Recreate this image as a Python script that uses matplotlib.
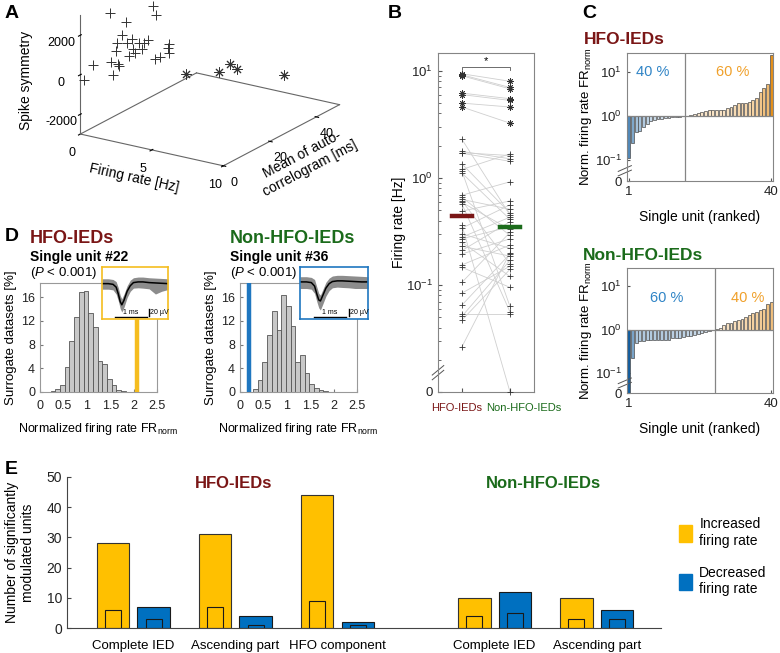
import numpy as np
import matplotlib
matplotlib.use('Agg')
import matplotlib.pyplot as plt
from matplotlib.patches import Patch

# ---------------- data ----------------
# A: 3D scatter (firing rate [Hz], mean of autocorrelogram [ms], spike symmetry)
a_fr_plus = [0.2, 0.38, 0.7, 0.76, 0.82, 0.72, 0.86, 0.88, 0.94, 1.02, 1.04, 1.08, 1.14, 1.16,
             1.2, 1.28, 1.34, 1.38, 1.44, 1.54, 1.6, 1.58, 1.68, 1.84, 1.86, 1.86, 0.84]
a_ac_plus = [0.5, 3.2, 8.3, 9.3, 10.2, 8.6, 10.9, 11.2, 12.1, 13.4, 13.7, 14.3, 15.3, 15.6,
             16.3, 17.5, 18.5, 19.1, 20.1, 21.6, 22.6, 22.3, 23.9, 26.4, 26.7, 26.7, 10.5]
a_sym_plus = [-270, 380, 2740, -470, 680, 240, 20, -90, 1420, 1990, 930, 240, 1020, 540,
              300, 710, 350, 640, 750, 2400, 1880, -340, -310, 0, 190, -230, 1080]
a_fr_star = [4.6, 6.0, 6.2, 6.4, 9.3]
a_ac_star = [17.0, 22.6, 26.2, 28.0, 30.6]
a_sym_star = [-250, -320, -70, -400, -430]

# B: firing rate per unit, HFO-IEDs vs Non-HFO-IEDs (paired)
b_hfo_star = [9.4, 9.2, 9.0, 6.2, 6.0, 5.0, 4.6]
b_non_star = [8.0, 7.0, 6.8, 5.5, 5.3, 4.6, 3.25]
b_hfo_plus = [2.29, 1.77, 1.72, 1.7, 1.35, 1.2, 1.15, 1.11, 0.69, 0.66, 0.63, 0.61, 0.59, 0.57,
              0.49, 0.36, 0.34, 0.30, 0.28, 0.27, 0.25, 0.23, 0.21, 0.195, 0.154, 0.146, 0.106,
              0.084, 0.065, 0.053, 0.051, 0.047, 0.0265]
b_non_plus = [0.45, 1.51, 1.62, 1.43, 0.47, 1.68, 0.063, 0.41, 0.92, 0.29, 0.51, 0.157, 0.33,
              0.056, 0.61, 0.0, 0.56, 0.22, 0.43, 0.35, 0.12, 0.186, 0.39, 0.27, 0.236, 0.095,
              0.31, 0.15, 0.195, 0.053, 0.17, 0.14, 0.2]
b_median = [0.44, 0.35]
b_groups = ['HFO-IEDs', 'Non-HFO-IEDs']

# C: normalized firing rate, ranked units
c_hfo = [0.11, 0.24, 0.44, 0.45, 0.55, 0.66, 0.76, 0.80, 0.84, 0.87, 0.89, 0.91, 0.93, 0.95,
         0.96, 0.98, 1.02, 1.05, 1.13, 1.17, 1.26, 1.30, 1.35, 1.35, 1.35, 1.38, 1.40, 1.48,
         1.56, 1.73, 1.96, 2.0, 2.0, 2.1, 2.3, 2.6, 3.4, 4.2, 5.2, 24.5]
c_non = [0.0, 0.22, 0.50, 0.53, 0.55, 0.56, 0.56, 0.57, 0.57, 0.57, 0.57, 0.58, 0.63, 0.63,
         0.64, 0.66, 0.70, 0.72, 0.75, 0.78, 0.82, 0.86, 0.90, 0.95, 1.01, 1.08, 1.30, 1.40,
         1.45, 1.55, 1.65, 1.75, 1.95, 2.2, 2.35, 2.5, 2.8, 3.0, 3.8, 4.3]
c_pct_hfo = ['40 %', '60 %']
c_pct_non = ['60 %', '40 %']

# D: surrogate distributions (bin centers, %)
d_hfo_centers = [0.28, 0.38, 0.48, 0.58, 0.68, 0.78, 0.88, 0.98, 1.08, 1.18, 1.28, 1.38, 1.48,
                 1.58, 1.68, 1.78]
d_hfo_heights = [0.1, 0.56, 1.2, 4.2, 8.6, 12.7, 16.8, 17.0, 13.4, 11.0, 5.3, 4.7, 2.25, 1.1,
                 0.35, 0.1]
d_non_centers = [0.33, 0.43, 0.53, 0.63, 0.73, 0.83, 0.93, 1.03, 1.13, 1.23, 1.33, 1.43, 1.53,
                 1.63, 1.73, 1.83, 1.93]
d_non_heights = [0.56, 2.1, 5.1, 9.6, 13.7, 10.4, 16.4, 14.5, 11.2, 5.1, 6.2, 3.2, 1.4, 0.7,
                 0.35, 0.15, 0.05]
d_observed = [2.08, 0.2]
# spike waveforms in the insets (ms, uV)
w_t = [0, 0.2, 0.35, 0.45, 0.52, 0.58, 0.63, 0.7, 0.8, 0.9, 1.0, 1.15, 1.3, 1.5, 1.7, 1.9, 2.1]
w_hfo_mean = [0, 0, -2, -10, -30, -52, -61, -48, -22, -6, 3, 5, 5, 3, 2, 1, 0]
w_hfo_up = [14, 14, 12, 6, -12, -34, -44, -30, -6, 10, 17, 19, 19, 17, 16, 15, 14]
w_hfo_lo = [-16, -16, -18, -30, -50, -72, -82, -68, -40, -22, -13, -12, -13, -15, -30, -22, -17]
w_non_mean = [5, 5, 3, -7, -30, -47, -50, -35, -13, 0, 6, 8, 8, 7, 6, 5, 5]
w_non_up = [20, 20, 18, 12, -10, -28, -33, -18, 4, 16, 22, 24, 24, 23, 22, 21, 20]
w_non_lo = [-14, -14, -16, -28, -52, -70, -76, -60, -36, -20, -12, -10, -11, -12, -14, -14, -14]

# E: significantly modulated units
e_labels = ['Complete IED', 'Ascending part', 'HFO component', 'Complete IED', 'Ascending part']
e_inc = [28, 31, 44, 10, 10]
e_dec = [7, 4, 2, 12, 6]
e_inc_inner = [6, 7, 9, 4, 3]
e_dec_inner = [3, 1, 1, 5, 3]

# ---------------- style ----------------
plt.rcParams['font.family'] = ['Liberation Sans', 'DejaVu Sans']
plt.rcParams['axes.unicode_minus'] = False
plt.rcParams['mathtext.fontset'] = 'custom'
plt.rcParams['mathtext.rm'] = 'Liberation Sans'
plt.rcParams['mathtext.it'] = 'Liberation Sans:italic'
plt.rcParams['mathtext.bf'] = 'Liberation Sans:bold'

DARKRED = '#7a1616'
GREEN = '#1b6b1b'
YELLOW = '#ffc000'
BLUE = '#0070c0'
SPINE = '#858585'
W, H = 780, 653


def rect(x0, y0, x1, y1):
    return [x0 / W, 1 - y1 / H, (x1 - x0) / W, (y1 - y0) / H]


fig = plt.figure(figsize=(7.8, 6.53), dpi=100)

# ---------------- A ----------------
axA = fig.add_axes(rect(60, -82, 352, 210), projection='3d')
axA.set_proj_type('ortho')
axA.view_init(elev=20, azim=-57)
axA.set_box_aspect((1, 1.25, 0.74), zoom=1.0)
axA.set_xlim(0, 10)
axA.set_ylim(0, 50)
axA.set_zlim(-3000, 3000)
for ax_ in (axA.xaxis, axA.yaxis, axA.zaxis):
    ax_.pane.set_visible(False)
    ax_.line.set_color('#666666')
    ax_.line.set_linewidth(0.8)
axA.zaxis.set_ticks_position('lower')
axA.zaxis.set_label_position('lower')
axA.grid(False)
axA.set_xticks([0, 5, 10])
axA.set_yticks([0, 20, 40])
axA.set_zticks([-2000, 0, 2000])
axA.tick_params(labelsize=9, pad=0)
axA.plot([0, 0], [0, 50], [-3000, -3000], color='#666666', lw=0.8)
axA.plot([0, 10], [50, 50], [-3000, -3000], color='#666666', lw=0.8)
axA.scatter(a_fr_plus, a_ac_plus, a_sym_plus, marker='+', c='#333333', s=55,
            linewidths=0.7, depthshade=False)
axA.scatter(a_fr_star, a_ac_star, a_sym_star, marker=(8, 2, 0), c='#333333', s=45,
            linewidths=0.7, depthshade=False)
axA.set_xlabel('Firing rate [Hz]', fontsize=10, labelpad=-4)
axA.set_ylabel('Mean of auto-\ncorrelogram [ms]', fontsize=10, labelpad=-2)
axA.set_zlabel('Spike symmetry', fontsize=10, labelpad=2)

# ---------------- B ----------------
axB = fig.add_axes(rect(438, 53, 534, 392))
axB.set_yscale('log')
ymin_b = 0.01
axB.set_ylim(ymin_b, 14.7)
axB.set_xlim(0.5, 2.5)
hfo_all = np.array(b_hfo_star + b_hfo_plus)
non_all = np.array(b_non_star + b_non_plus)
hfo_all = np.where(hfo_all > 0, hfo_all, ymin_b)
non_all = np.where(non_all > 0, non_all, ymin_b)
for a, b in zip(hfo_all, non_all):
    axB.plot([1, 2], [a, b], color='#cfcfcf', lw=0.6, zorder=1)
ns = len(b_hfo_star)
axB.plot(np.ones(ns), hfo_all[:ns], ls='none', marker=(8, 2, 0), ms=4.5, mew=0.6,
         color='#333333', zorder=3, clip_on=False)
axB.plot(np.full(ns, 2), non_all[:ns], ls='none', marker=(8, 2, 0), ms=4.5, mew=0.6,
         color='#333333', zorder=3, clip_on=False)
axB.plot(np.ones(len(hfo_all) - ns), hfo_all[ns:], ls='none', marker='+', ms=5, mew=0.6,
         color='#333333', zorder=3, clip_on=False)
axB.plot(np.full(len(non_all) - ns, 2), non_all[ns:], ls='none', marker='+', ms=5, mew=0.6,
         color='#333333', zorder=3, clip_on=False)
axB.plot([0.79, 1.21], [b_median[0]] * 2, color=DARKRED, lw=3.2, zorder=4)
axB.plot([1.79, 2.21], [b_median[1]] * 2, color=GREEN, lw=3.2, zorder=4)
axB.plot([1, 1, 2, 2], [10.2, 10.8, 10.8, 10.2], color='#555555', lw=0.6)
axB.text(1.5, 11.0, '*', ha='center', va='bottom', fontsize=8)
axB.set_yticks([0.01, 0.1, 1, 10])
axB.set_yticklabels(['0', '$10^{-1}$', '$10^{0}$', '$10^{1}$'], fontsize=9.5)
axB.set_xticks([1, 2])
axB.set_xticklabels(['', ''])
axB.text((482 - 438) / 96, -16 / 339, b_groups[0], color=DARKRED, fontsize=8, ha='right',
         va='center', transform=axB.transAxes)
axB.text((486 - 438) / 96, -16 / 339, b_groups[1], color=GREEN, fontsize=8, ha='left',
         va='center', transform=axB.transAxes)
axB.tick_params(which='both', direction='in', right=False, top=False, colors='#555555',
                labelcolor='#222222')
axB.tick_params(which='major', length=3)
axB.tick_params(which='minor', length=1.8)
for s in axB.spines.values():
    s.set_color(SPINE)
    s.set_linewidth(0.8)
axB.set_ylabel('Firing rate [Hz]', fontsize=10, labelpad=0)
for dy in (0.0, 0.014):
    axB.plot([-0.06, 0.06], [0.036 + dy, 0.064 + dy], transform=axB.transAxes,
             color='#555555', lw=0.7, clip_on=False)


# ---------------- C ----------------
def blend(base, t):
    base = np.array(matplotlib.colors.to_rgb(base))
    return tuple(1 - (1 - base) * t)


def draw_c(box, vals, n_low, pcts, pct_y, title, tcolor, title_xy):
    ax = fig.add_axes(rect(*box))
    ax.set_yscale('log')
    lo, hi = 0.034, 26.5
    ax.set_ylim(lo, hi)
    ax.set_xlim(0.5, len(vals) + 0.5)
    v = np.array(vals, float)
    v = np.where(v > 0, v, lo)
    x = np.arange(1, len(v) + 1)
    dev = np.clip(np.abs(np.log10(v)) / 1.45, 0, 1)
    cols = [blend('#135d9e' if vi < 1 else '#e58c12', 0.15 + 0.85 * d ** 0.9)
            for vi, d in zip(v, dev)]
    ax.bar(x, v - 1, bottom=1, width=0.8, color=cols, edgecolor='#4d4d4d', lw=0.5, zorder=2)
    ax.axhline(1, color=SPINE, lw=0.9, zorder=3)
    ax.axvline(n_low + 0.5, color=SPINE, lw=0.9, zorder=3)
    ax.text((1 + n_low) / 2 - 1, pct_y, pcts[0], color='#2f84c6', ha='center', va='center',
            fontsize=10.5)
    ax.text((n_low + 1 + len(v)) / 2 + 1, pct_y, pcts[1], color='#f0a02a', ha='center',
            va='center', fontsize=10.5)
    ax.set_yticks([lo, 0.1, 1, 10])
    ax.set_yticklabels(['0', '$10^{-1}$', '$10^{0}$', '$10^{1}$'], fontsize=9.5)
    ax.yaxis.set_minor_locator(matplotlib.ticker.NullLocator())
    ax.set_xticks([1, len(v)])
    ax.set_xticklabels(['1', str(len(v))], fontsize=9.5)
    ax.tick_params(direction='in', length=2.5, colors='#555555', labelcolor='#222222',
                   right=False, top=False)
    for s in ax.spines.values():
        s.set_color(SPINE)
        s.set_linewidth(0.8)
    ax.set_ylabel('Norm. firing rate FR$_{\\mathrm{norm}}$', fontsize=9.5, labelpad=1)
    ax.set_xlabel('Single unit (ranked)', fontsize=10, labelpad=9)
    for dy in (0.0, 0.035):
        ax.plot([-0.06, 0.03], [0.04 + dy, 0.085 + dy], transform=ax.transAxes,
                color='#555555', lw=0.7, clip_on=False)
    fig.text(title_xy[0] / W, 1 - title_xy[1] / H, title, color=tcolor, fontsize=12.5,
             fontweight='bold', ha='left', va='center')
    return ax


draw_c((627, 53, 773, 181), c_hfo, 16, c_pct_hfo, 10, 'HFO-IEDs', DARKRED, (584, 40))
draw_c((627, 268, 773, 393), c_non, 24, c_pct_non, 5.3, 'Non-HFO-IEDs', GREEN, (583, 256))


# ---------------- D ----------------
def draw_d(box, centers, heights, obs, obs_color, inset_box, wm, wu, wl, title, tcolor,
           unit, x0):
    ax = fig.add_axes(rect(*box))
    ax.bar(centers, heights, width=0.1, color='#c8c8c8', edgecolor='#555555', lw=0.6, zorder=2)
    ax.plot([obs, obs], [0, 18.4], color=obs_color, lw=3.2, zorder=3, solid_capstyle='butt')
    ax.set_xlim(0, 2.5)
    ax.set_ylim(0, 18.4)
    ax.set_yticks([0, 4, 8, 12, 16])
    ax.set_xticks([0, 0.5, 1, 1.5, 2, 2.5])
    ax.set_xticklabels(['0', '0.5', '1', '1.5', '2', '2.5'])
    for lbl in ax.get_xticklabels() + ax.get_yticklabels():
        lbl.set_fontsize(9)
    ax.tick_params(direction='in', length=2, colors='#777777', labelcolor='#222222')
    ax.tick_params(axis='x', pad=6)
    for s in ax.spines.values():
        s.set_color('#999999')
        s.set_linewidth(0.8)
    ax.set_ylabel('Surrogate datasets [%]', fontsize=9.5, labelpad=3)
    ax.set_xlabel('Normalized firing rate FR$_{\\mathrm{norm}}$', fontsize=9, labelpad=6)

    ins = fig.add_axes(rect(*inset_box))
    ins.fill_between(w_t, wl, wu, color='#8c8c8c', lw=0)
    ins.plot(w_t, wm, color='black', lw=1.1)
    ins.set_xlim(0, 2.1)
    ins.set_ylim(-102, 48)
    ins.plot([0.42, 1.42], [-96, -96], color='black', lw=1)
    ins.text(0.92, -93, '1 ms', fontsize=5, ha='center', va='bottom')
    ins.plot([1.5, 1.5], [-93, -73], color='black', lw=1)
    ins.text(1.53, -83, '20 \u00b5V', fontsize=5, ha='left', va='center')
    ins.set_xticks([])
    ins.set_yticks([])
    for s in ins.spines.values():
        s.set_color(obs_color)
        s.set_linewidth(1.2)

    fig.text(x0 / W, 1 - 239 / H, title, color=tcolor, fontsize=13, fontweight='bold',
             va='center')
    fig.text(x0 / W, 1 - 257 / H, unit, fontsize=10, fontweight='bold', va='center')
    fig.text(x0 / W, 1 - 273 / H, '($\\it{P}$ < 0.001)', fontsize=9.5, va='center')
    return ax


draw_d((40, 283, 157, 392), d_hfo_centers, d_hfo_heights, d_observed[0], '#f5bd1f',
       (102, 267, 168, 319), w_hfo_mean, w_hfo_up, w_hfo_lo, 'HFO-IEDs', DARKRED,
       'Single unit #22', 30)
draw_d((240, 283, 357, 392), d_non_centers, d_non_heights, d_observed[1], '#1f77c0',
       (300, 267, 368, 319), w_non_mean, w_non_up, w_non_lo, 'Non-HFO-IEDs', GREEN,
       'Single unit #36', 230)

# ---------------- E ----------------
axE = fig.add_axes(rect(67, 477, 661, 628))
gx = np.array([0, 1, 2, 3.54, 4.54])
axE.bar(gx - 0.2, e_inc, width=0.32, color=YELLOW, edgecolor='#333333', lw=0.8)
axE.bar(gx + 0.2, e_dec, width=0.32, color=BLUE, edgecolor='#1a1a1a', lw=0.8)
axE.bar(gx - 0.2, e_inc_inner, width=0.155, color=YELLOW, edgecolor='#1a1a1a', lw=0.8)
axE.bar(gx + 0.2, e_dec_inner, width=0.155, color=BLUE, edgecolor='#1a1a1a', lw=0.8)
axE.set_xlim(-0.65, 5.17)
axE.set_ylim(0, 50)
axE.set_yticks([0, 10, 20, 30, 40, 50])
axE.set_xticks(gx)
axE.set_xticklabels(e_labels)
for lbl in axE.get_xticklabels():
    lbl.set_fontsize(9.5)
for lbl in axE.get_yticklabels():
    lbl.set_fontsize(10)
axE.tick_params(axis='x', length=0, pad=9)
axE.tick_params(axis='y', direction='in', length=3, colors='#444444', labelcolor='#222222')
axE.spines['top'].set_visible(False)
axE.spines['right'].set_visible(False)
axE.spines['left'].set_color('#444444')
axE.spines['bottom'].set_color('#444444')
axE.set_ylabel('Number of significantly\nmodulated units', fontsize=10, labelpad=8)
axE.text(0.985, 48, 'HFO-IEDs', color=DARKRED, fontsize=12, fontweight='bold',
         ha='center', va='center')
axE.text(4.02, 48, 'Non-HFO-IEDs', color=GREEN, fontsize=12, fontweight='bold',
         ha='center', va='center')
fig.legend(handles=[Patch(color=YELLOW), Patch(color=BLUE)],
           labels=['Increased\nfiring rate', 'Decreased\nfiring rate'],
           loc='upper left', bbox_to_anchor=(666 / W, 1 - 505 / H), frameon=False,
           handlelength=1.0, handleheight=1.4, handletextpad=0.5, labelspacing=1.3,
           prop={'size': 10})

# ---------------- panel letters ----------------
for letter, (px, py) in {'A': (5, 14), 'B': (388, 14), 'C': (582, 14), 'D': (5, 237),
                         'E': (5, 470)}.items():
    fig.text(px / W, 1 - py / H, letter, fontsize=14, fontweight='bold', va='center')

fig.savefig('out.png', dpi=100)
